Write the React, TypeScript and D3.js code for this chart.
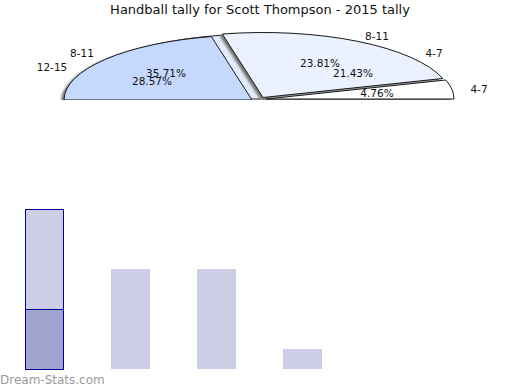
import * as d3 from "d3";

// pie: relative weights of the three visible wedges (upper half only)
const sliceWeights = [77.5, 85.5, 17];
const sliceExplode = [
  [0, 0],
  [11, -2.5],
  [14, -1],
];
const outerLabels = ["8-11", "12-15", "8-11", "4-7", "4-7"];
const pctLabels = ["35.71%", "28.57%", "23.81%", "21.43%", "4.76%"];

// bars
const barCategories = ["12-15", "8-11", "4-7", "0-3"];
const darkSeries = [3, 0, 0, 0];
const lightSeries = [5, 5, 5, 1];

const W = 520;
const H = 390;

const sliceFill = ["#c5d8fe", "#ebf1fe", "#ffffff"];
const outerPos: [number, number][] = [
  [82, 53],
  [52, 67],
  [377, 36],
  [434, 53],
  [479, 89],
];
const pctPos: [number, number][] = [
  [166, 73],
  [152, 81],
  [320, 63],
  [353, 73],
  [377, 93],
];

export default function App() {
  const cx = 252;
  const cy = 100;
  const rx = 188;
  const ry = 65;

  const pie = d3
    .pie<number>()
    .sort(null)
    .startAngle(-Math.PI / 2)
    .endAngle(Math.PI / 2);
  const arcs = pie(sliceWeights);
  const arc = d3.arc<d3.PieArcDatum<number>>().innerRadius(0).outerRadius(rx);
  const half = d3.arc()({
    innerRadius: 0,
    outerRadius: rx,
    startAngle: -Math.PI / 2,
    endAngle: Math.PI / 2,
  }) as string;

  const x = d3
    .scaleBand()
    .domain(barCategories)
    .range([25, 322])
    .paddingInner(0.5465)
    .paddingOuter(0);
  const y = d3.scaleLinear().domain([0, 8]).range([369, 209]);

  const table = barCategories.map((c, i) => ({
    cat: c,
    dark: darkSeries[i],
    light: lightSeries[i],
  }));
  const stacked = d3.stack<any>().keys(["dark", "light"])(table);
  const barFill = ["#a3a3d0", "#cdcde5"];

  const font = "'DejaVu Sans', sans-serif";
  const k = ry / rx;

  return (
    <svg
      width={W}
      height={H}
      style={{ position: "absolute", left: 0, top: 0, background: "#fff" }}
      fontFamily={font}
    >
      <defs>
        <clipPath id="pieClip">
          <rect x={0} y={0} width={W} height={100} />
        </clipPath>
        <filter id="soft" x="-10%" y="-10%" width="120%" height="120%">
          <feGaussianBlur stdDeviation={0.9} />
        </filter>
      </defs>

      <text x={W / 2} y={14} textAnchor="middle" fontSize={13} fill="#111">
        Handball tally for Scott Thompson - 2015 tally
      </text>

      <g clipPath="url(#pieClip)">
        {/* gap / depth background */}
        <path
          d={half}
          transform={`translate(${cx + 6},${cy - 1}) scale(1,${k})`}
          fill="#e3ebfc"
          stroke="#222"
          vectorEffect="non-scaling-stroke"
        />
        {/* shadows */}
        <g filter="url(#soft)">
          {arcs.map((a, i) => (
            <path
              key={"s" + i}
              d={arc(a) as string}
              transform={`translate(${cx + sliceExplode[i][0] - 3},${cy + sliceExplode[i][1] + 1.5}) scale(1,${k})`}
              fill="#777"
            />
          ))}
        </g>
        {arcs.map((a, i) => (
          <path
            key={"p" + i}
            d={arc(a) as string}
            transform={`translate(${cx + sliceExplode[i][0]},${cy + sliceExplode[i][1]}) scale(1,${k})`}
            fill={sliceFill[i]}
            stroke="#1a1a1a"
            strokeWidth={1}
            vectorEffect="non-scaling-stroke"
          />
        ))}
      </g>

      {outerLabels.map((t, i) => (
        <text
          key={"o" + i}
          x={outerPos[i][0]}
          y={outerPos[i][1]}
          textAnchor="middle"
          dominantBaseline="central"
          fontSize={10.5}
          fill="#111"
        >
          {t}
        </text>
      ))}
      {pctLabels.map((t, i) => (
        <text
          key={"c" + i}
          x={pctPos[i][0]}
          y={pctPos[i][1]}
          textAnchor="middle"
          dominantBaseline="central"
          fontSize={10.5}
          fill="#111"
        >
          {t}
        </text>
      ))}

      {stacked.map((s, si) =>
        s.map((d, i) =>
          d[1] - d[0] > 0 ? (
            <rect
              key={`b${si}-${i}`}
              x={(x(barCategories[i]) ?? 0) + (i === 0 ? 0.5 : 0)}
              y={y(d[1]) + (i === 0 ? 0.5 : 0)}
              width={x.bandwidth() - (i === 0 ? 1 : 0)}
              height={y(d[0]) - y(d[1])}
              fill={barFill[si]}
              stroke={i === 0 ? "#000099" : "none"}
              strokeWidth={1}
            />
          ) : null
        )
      )}

      <text x={0} y={384} fontSize={12} fill="#9a9a9a" fontFamily="'DejaVu Sans', sans-serif">
        Dream-Stats.com
      </text>
    </svg>
  );
}
